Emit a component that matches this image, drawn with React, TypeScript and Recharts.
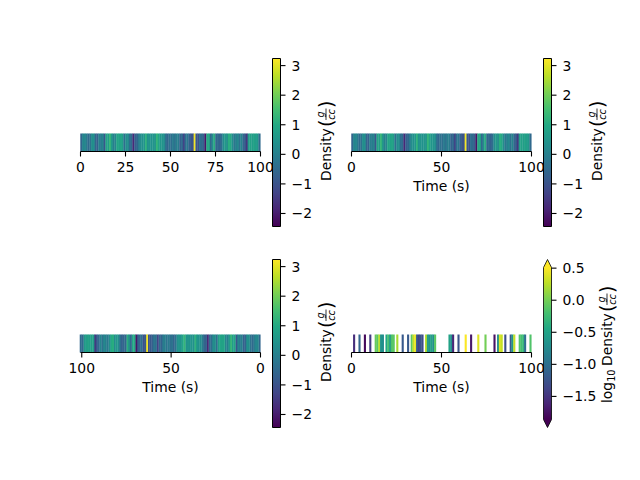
import React from "react";
import { BarChart, Bar, XAxis, YAxis, Label } from "recharts";

const FONT = "DejaVu Sans";
const FS = 13.9;

const viridis = ["#440154","#482475","#414487","#355f8d","#2a788e","#21918c","#22a884","#44bf70","#7ad151","#bddf26","#fde725"];

const density = [
  -0.6,0.1,0.2,-0.1,-0.5,-0.3,0.3,0.4,-0.6,-0.7,
  0,-0.1,0.1,-0.9,0.9,0.7,1.3,0.6,0,0.1,
  0.9,0.8,0.9,0.7,-0.4,0.3,0.3,-0.4,-0.5,-1.8,
  -0.7,-0.6,-0.1,0.3,0.4,0.5,1.2,0.4,0.5,0.4,
  0.5,0.4,1.3,0.9,0.5,0.5,0.4,-0.3,-0.6,-0.3,
  -0.4,-0.1,-0.3,0,-0.1,-0.7,-0.5,-1.3,-0.4,-0.2,
  -0.7,-0.9,-1,3.15,-0.9,-1,-0.4,-0.5,-0.7,-2.1,
  1,0.9,-0.5,0.3,1.1,-0.6,-0.5,-0.7,-0.4,0.3,
  0.6,0.3,1.1,1,0.3,-0.2,0,0.2,-0.3,0.1,
  -0.5,-0.8,-1.5,0.7,0.8,0.7,0.8,0.7,0.6,-0.5,
];

const logDensity: (number | null)[] = [
  null,-1.55,null,null,-1.1,null,null,-1.8,null,null,
  -1.45,null,null,-0.05,-0.1,0.25,-0.65,-0.7,null,-0.45,
  -0.2,-0.55,-0.15,-0.1,null,0.2,null,null,-1.2,null,
  null,-1.2,null,-0.1,0.3,0.45,-1.2,-1.4,-1.25,-1.3,
  null,0.25,-0.55,-0.65,-0.5,-0.7,-0.1,null,null,null,
  null,null,null,null,-0.5,-0.7,-1.6,null,null,-1.25,
  null,null,null,0.5,null,null,-1.7,null,null,null,
  0.4,null,null,null,0,null,null,null,null,-1.75,
  null,-0.7,0.4,0.3,null,-1.3,null,null,-1.2,-0.6,
  0.3,null,null,-0.15,-0.2,-0.3,-1,null,null,-0.15,
];

const densityRange = [-2.44, 3.24];
const logRange = [-1.86, 0.51];
const densityTicks = [-2, -1, 0, 1, 2, 3];
const logTicks = [-1.5, -1, -0.5, 0, 0.5];
const ticks25 = [0, 25, 50, 75, 100];
const ticks50 = [0, 50, 100];

const colorOf = (v: number, [lo, hi]: number[]) => {
  const p = Math.max(0, Math.min(1, (v - lo) / (hi - lo))) * 10;
  const i = Math.min(9, Math.floor(p));
  const f = p - i;
  const parse = (h: string) => [1, 3, 5].map((k) => parseInt(h.slice(k, k + 2), 16));
  const a = parse(viridis[i]);
  const b = parse(viridis[i + 1]);
  return `rgb(${a.map((c, k) => Math.round(c + (b[k] - c) * f)).join(",")})`;
};

const rows = (vals: (number | null)[]) => vals.map((v, i) => ({ t: i + 0.5, v, h: v === null ? null : 1 }));

function Strip({ left, top, vals, range, ticks, label, domain, reversed }: any) {
  const data = rows(vals);
  const barShape = (p: any) => {
    const v = p.payload?.v;
    if (v === null || v === undefined) return <g />;
    return <rect x={p.x + p.width / 2 - 1.05} y={p.y} width={2.1} height={p.height} fill={colorOf(v, range)} stroke="none" />;
  };
  return (
    <div style={{ position: "absolute", left: left - 25, top: top - 10 }}>
      <BarChart width={231} height={79} data={data} margin={{ top: 10.5, right: 25.5, left: 25.5, bottom: 0.5 }} barGap={0}>
        <XAxis
          dataKey="t" type="number" domain={domain} ticks={ticks} reversed={reversed} height={50}
          interval={0} tickSize={5} tickMargin={6}
          stroke="#000" axisLine={{ stroke: "#000", strokeWidth: 1.1 }} tickLine={{ stroke: "#000", strokeWidth: 1.1 }}
          tick={{ fill: "#000", fontSize: FS, fontFamily: FONT }}
        >
          {label ? <Label value={label} position="insideBottom" offset={11} fill="#000" fontSize={FS} fontFamily={FONT} /> : null}
        </XAxis>
        <YAxis type="number" domain={[0, 1]} width={0} tick={false} tickLine={false} axisLine={{ stroke: "#000", strokeWidth: 1.1 }} />
        <Bar dataKey="h" barSize={2} isAnimationActive={false} shape={barShape} />
      </BarChart>
    </div>
  );
}

function MathLabel({ x, y, log }: { x: number; y: number; log?: boolean }) {
  const base = { fontFamily: FONT, fill: "#000" };
  const start = log ? 37 : 0;
  return (
    <g transform={`translate(${x},${y}) rotate(-90)`}>
      {log ? (
        <text {...base} fontSize={FS}>
          log<tspan fontSize={9.7} dy={3}>10</tspan>
        </text>
      ) : null}
      <text {...base} x={start} fontSize={FS}>Density</text>
      <text {...base} x={start + 54} fontSize={19} y={1.5}>(</text>
      <text {...base} x={start + 66.5} y={-7.5} fontSize={9.7} fontStyle="italic" textAnchor="middle">g</text>
      <line x1={start + 61} x2={start + 72.5} y1={-5} y2={-5} stroke="#000" strokeWidth={0.8} />
      <text {...base} x={start + 66.5} y={3.5} fontSize={9.7} fontStyle="italic" textAnchor="middle">cc</text>
      <text {...base} x={start + 73} fontSize={19} y={1.5}>)</text>
    </g>
  );
}

const fmtDensity = (v: number) => String(v).replace("-", "\u2212");
const fmtLog = (v: number) => v.toFixed(1).replace("-", "\u2212");

function ExtendShape(props: any) {
  const { x, y, width, height } = props;
  const tip = 8;
  const d = `M${x},${y} L${x + width / 2},${y - tip} L${x + width},${y} L${x + width},${y + height} L${x + width / 2},${y + height + tip} L${x},${y + height} Z`;
  return <path d={d} fill="url(#viridisExt)" stroke="#000" strokeWidth={0.8} />;
}

function Colorbar({ left, top, height, range, ticks, format, labelX, labelY, log, extend }: any) {
  const data = [{ name: "c", span: range }];
  const mt = 12;
  return (
    <div style={{ position: "absolute", left: left - 10, top: top - mt }}>
      <BarChart width={99} height={height + mt * 2 + 1} data={data} margin={{ top: mt + 0.5, left: 10.5, right: 0.5, bottom: mt + 0.5 }} barCategoryGap={0}>
        <defs>
          <linearGradient id="viridisV" x1="0" y1="1" x2="0" y2="0">
            {viridis.map((c, i) => <stop key={i} offset={i / 10} stopColor={c} />)}
          </linearGradient>
          <linearGradient id="viridisExt" x1="0" y1="1" x2="0" y2="0">
            {viridis.map((c, i) => <stop key={i} offset={0.05 + (0.9 * i) / 10} stopColor={c} />)}
          </linearGradient>
        </defs>
        <XAxis dataKey="name" hide />
        <YAxis
          orientation="right" type="number" domain={range} ticks={ticks} width={80} interval={0}
          axisLine={false} tickSize={5} tickMargin={6} tickFormatter={format}
          tickLine={{ stroke: "#000", strokeWidth: 1.1 }}
          tick={{ fill: "#000", fontSize: FS, fontFamily: FONT, textAnchor: "start" }}
        >
          <Label content={() => <MathLabel x={labelX - left + 10} y={labelY - top + mt} log={log} />} />
        </YAxis>
        {extend ? (
          <Bar dataKey="span" isAnimationActive={false} shape={<ExtendShape />} />
        ) : (
          <Bar dataKey="span" isAnimationActive={false} fill="url(#viridisV)" stroke="#000" strokeWidth={1} />
        )}
      </BarChart>
    </div>
  );
}

export default function App() {
  return (
    <div style={{ position: "absolute", left: 0, top: 0, width: 640, height: 480, background: "#fff", overflow: "hidden" }}>
      <Strip left={80} top={133} vals={density} range={densityRange} ticks={ticks25} domain={[0, 100]} />
      <Strip left={351} top={133} vals={density} range={densityRange} ticks={ticks50} domain={[0, 100]} label="Time (s)" />
      <Strip left={80} top={334} vals={[...density, density[99]]} range={densityRange} ticks={ticks50} domain={[0, 100.7]} reversed label="Time (s)" />
      <Strip left={351} top={334} vals={logDensity} range={logRange} ticks={ticks50} domain={[0, 100]} label="Time (s)" />
      <Colorbar left={272} top={58} height={168} range={densityRange} ticks={densityTicks} format={fmtDensity} labelX={331} labelY={181} />
      <Colorbar left={543} top={58} height={168} range={densityRange} ticks={densityTicks} format={fmtDensity} labelX={602} labelY={181} />
      <Colorbar left={272} top={259} height={168} range={densityRange} ticks={densityTicks} format={fmtDensity} labelX={331} labelY={382} />
      <Colorbar left={543} top={267} height={152} range={logRange} ticks={logTicks} format={fmtLog} labelX={612} labelY={403} log extend />
    </div>
  );
}
